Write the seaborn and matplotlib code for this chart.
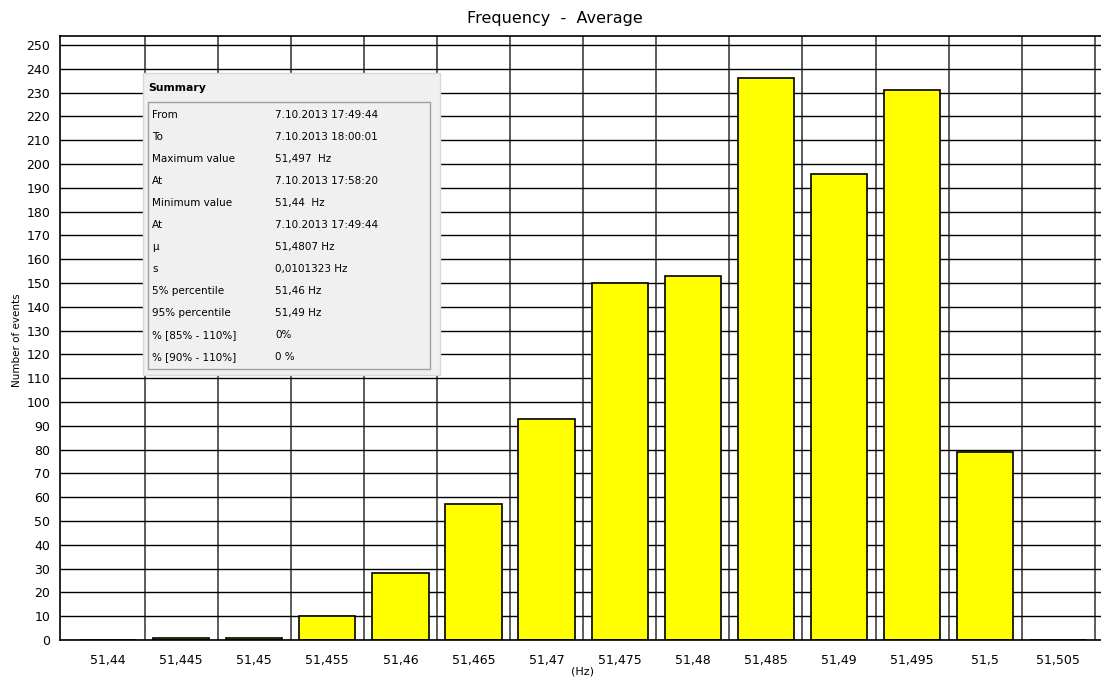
import matplotlib
matplotlib.use('Agg')
import matplotlib.pyplot as plt
import seaborn as sns
import pandas as pd
import numpy as np
from matplotlib.patches import Rectangle

categories = ["51,44", "51,445", "51,45", "51,455", "51,46", "51,465", "51,47",
              "51,475", "51,48", "51,485", "51,49", "51,495", "51,5", "51,505"]
counts = [0, 1, 1, 10, 28, 57, 93, 150, 153, 236, 196, 231, 79, 0]
y_ticks = list(range(0, 251, 10))

summary_labels = ["From", "To", "Maximum value", "At", "Minimum value", "At",
                  "\u00b5", "s", "5% percentile", "95% percentile",
                  "% [85% - 110%]", "% [90% - 110%]"]
summary_values = ["7.10.2013 17:49:44", "7.10.2013 18:00:01", "51,497  Hz",
                  "7.10.2013 17:58:20", "51,44  Hz", "7.10.2013 17:49:44",
                  "51,4807 Hz", "0,0101323 Hz", "51,46 Hz", "51,49 Hz",
                  "0%", "0 %"]

sns.set_style("white")
plt.rcParams['font.family'] = ['DejaVu Sans']
plt.rcParams['text.color'] = 'black'
plt.rcParams['xtick.color'] = 'black'
plt.rcParams['ytick.color'] = 'black'
plt.rcParams['xtick.labelcolor'] = 'black'
plt.rcParams['ytick.labelcolor'] = 'black'

W, H = 1101, 679
fig = plt.figure(figsize=(W / 100, H / 100), dpi=100)
ax = fig.add_axes([60 / W, 1 - 640 / H, 1041 / W, 604 / H])

df = pd.DataFrame({"bin": categories, "count": counts})
sns.barplot(data=df, x="bin", y="count", order=categories, color="#ffff00",
            saturation=1, width=0.77, edgecolor="black", linewidth=1.2, ax=ax)

ax.set_axisbelow(True)
ax.set_xlim(-0.657, 13.584)
ax.set_ylim(0, 253.8)
ax.set_yticks(y_ticks)
ax.set_xticks(np.arange(0.5, len(categories), 1), minor=True)
ax.grid(axis="y", which="major", color="black", lw=1)
ax.grid(axis="x", which="minor", color="#303030", lw=1.1)
ax.grid(axis="x", which="major", visible=False)
ax.tick_params(axis="x", which="minor", length=0)
ax.tick_params(axis="both", which="major", length=4, width=1, direction="out",
               labelsize=9, color="black", labelcolor="black", pad=3)
ax.tick_params(axis="x", which="major", pad=6)
for s in ["left", "top", "bottom"]:
    ax.spines[s].set_visible(True)
    ax.spines[s].set_color("black")
    ax.spines[s].set_linewidth(1.2)
ax.spines["right"].set_visible(False)
ax.set_xlabel("")
ax.set_ylabel("")

fig.text(555 / W, 1 - 18 / H, "Frequency  -  Average", fontsize=11.5,
         ha="center", va="center", color="black")
fig.text(17 / W, 1 - 340 / H, "Number of events", rotation=90, fontsize=7.5,
         ha="center", va="center", color="black")
fig.text(583 / W, 1 - 672 / H, "(Hz)", fontsize=8, ha="center", va="center",
         color="black")

# Summary box
def px_rect(x0, y0, x1, y1, **kw):
    return Rectangle((x0 / W, 1 - y1 / H), (x1 - x0) / W, (y1 - y0) / H,
                     transform=fig.transFigure, **kw)

fig.patches.append(px_rect(143, 73, 440, 375, facecolor="#f0f0f0",
                           edgecolor="#d8d8d8", lw=1, zorder=5))
fig.patches.append(px_rect(148, 102, 430, 369, facecolor="#f0f0f0",
                           edgecolor="#a0a0a0", lw=1, zorder=6))
fig.text(148 / W, 1 - 88 / H, "Summary", fontsize=7.8, fontweight="bold",
         ha="left", va="center", zorder=7, color="black")
for i, (lab, val) in enumerate(zip(summary_labels, summary_values)):
    y = 115 + i * 22
    fig.text(152 / W, 1 - y / H, lab, fontsize=7.5, ha="left", va="center",
             zorder=7, color="black")
    fig.text(275 / W, 1 - y / H, val, fontsize=7.5, ha="left", va="center",
             zorder=7, color="black")

fig.savefig("out.png", dpi=100)
